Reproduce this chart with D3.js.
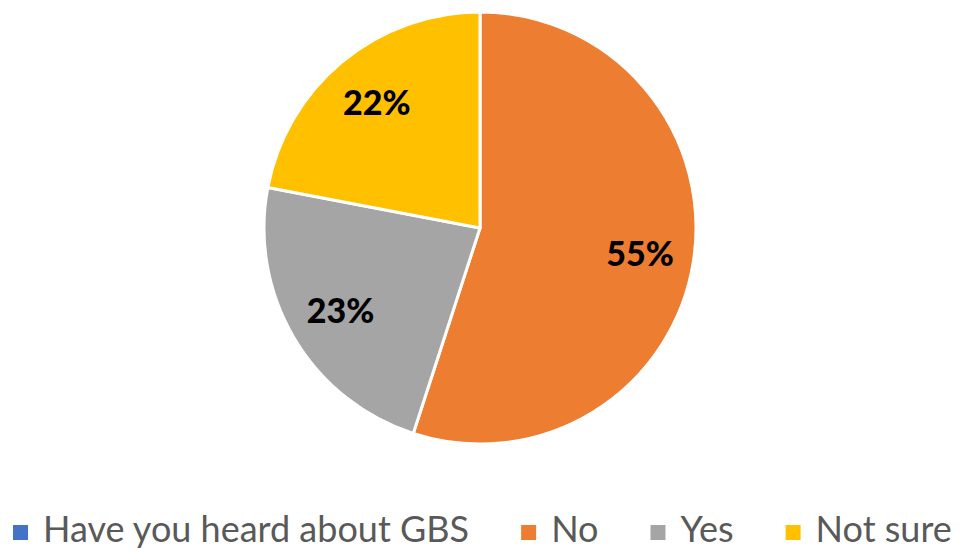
<!DOCTYPE html>
<html>
<head>
<meta charset="utf-8">
<script src="https://cdn.jsdelivr.net/npm/d3@7"></script>
<style>
  body { margin: 0; background: #fff; }
  svg { display: block; }
</style>
</head>
<body>
<svg id="chart" width="966" height="550"></svg>
<script>
const categories = ["Have you heard about GBS", "No", "Yes", "Not sure"];
const values = [0, 55, 23, 22];
const colors = ["#4472C4", "#ED7D31", "#A5A5A5", "#FFC000"];

const data = categories.map((c, i) => ({ category: c, value: values[i], color: colors[i] }));

const svg = d3.select("#chart");
const cx = 480, cy = 228, radius = 216;

const g = svg.append("g").attr("transform", `translate(${cx},${cy})`);

const pie = d3.pie()
    .sort(null)
    .value(d => d.value);

const arc = d3.arc().innerRadius(0).outerRadius(radius);
const labelArc = d3.arc().innerRadius(radius * 0.75).outerRadius(radius * 0.75);

const arcs = pie(data).filter(d => d.data.value > 0);

g.selectAll("path.slice")
    .data(arcs)
    .join("path")
    .attr("class", "slice")
    .attr("d", arc)
    .attr("fill", d => d.data.color)
    .attr("stroke", "#fff")
    .attr("stroke-width", 3)
    .attr("stroke-linejoin", "round");

g.selectAll("text.label")
    .data(arcs)
    .join("text")
    .attr("class", "label")
    .attr("transform", d => `translate(${labelArc.centroid(d)})`)
    .attr("text-anchor", "middle")
    .attr("dy", "0.36em")
    .style("font-family", "Lato, 'Open Sans', sans-serif")
    .style("font-weight", "900")
    .style("font-size", "34px")
    .attr("fill", "#000")
    .text(d => `${d.data.value}%`);

// legend: flows left to right along the bottom
const legend = svg.append("g").attr("class", "legend");
const baseline = 542, sq = 15, gapText = 15, gapItem = 52;
let x = 13;
data.forEach(d => {
    legend.append("rect")
        .attr("x", x)
        .attr("y", baseline - 17)
        .attr("width", sq)
        .attr("height", sq)
        .attr("fill", d.color);
    const t = legend.append("text")
        .attr("x", x + sq + gapText)
        .attr("y", baseline)
        .style("font-family", "Lato, 'Open Sans', sans-serif")
        .style("font-size", "36px")
        .attr("fill", "#595959")
        .text(d.category);
    x += sq + gapText + t.node().getComputedTextLength() + gapItem;
});
</script>
</body>
</html>
